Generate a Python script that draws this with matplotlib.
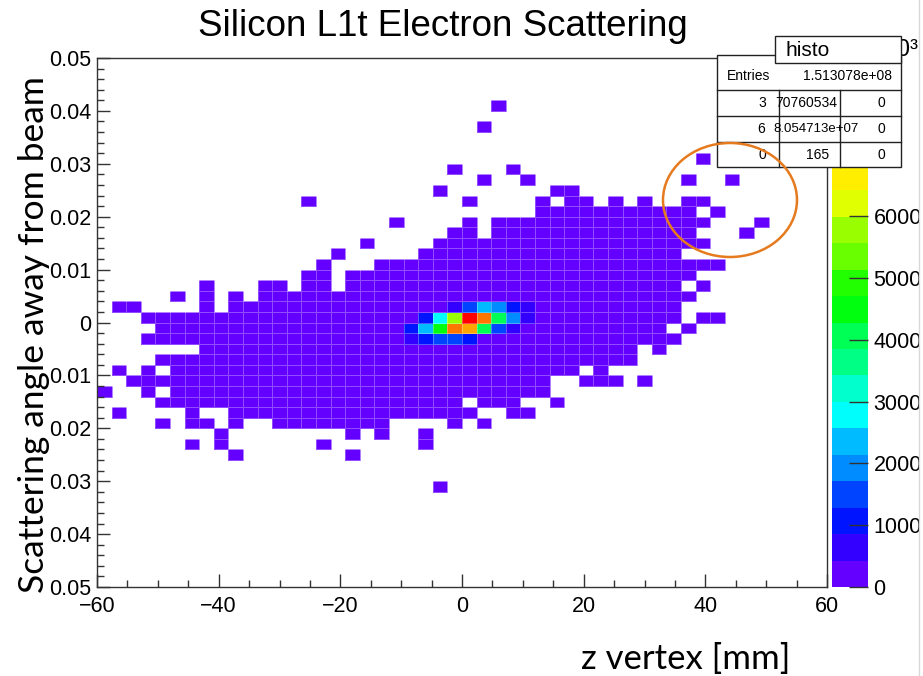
import matplotlib
matplotlib.use('Agg')
import matplotlib.pyplot as plt
import numpy as np
from matplotlib.colors import ListedColormap, BoundaryNorm
from matplotlib.patches import Rectangle, Ellipse
from matplotlib.lines import Line2D
from matplotlib.ticker import MultipleLocator, FuncFormatter

# 2D histogram binning: z vertex [mm] vs scattering angle
nbins_x, x_lo, x_hi = 50, -60.0, 60.0
nbins_y, y_lo, y_hi = 50, -0.05, 0.05

# filled bins, one string per y bin ('#' = low-count bin), top row is iy = 45
top_row = 45
occupancy = [
    '..........' '..........' '.......#..' '..........' '..........',  # 45
    '..........' '..........' '..........' '..........' '..........',  # 44
    '..........' '..........' '......#...' '..........' '..........',  # 43
    '..........' '..........' '..........' '..........' '..........',  # 42
    '..........' '..........' '..........' '..........' '..........',  # 41
    '..........' '..........' '..........' '..........' '.#........',  # 40
    '..........' '..........' '....#...#.' '..........' '..........',  # 39
    '..........' '..........' '......#..#' '..........' '#..#......',  # 38
    '..........' '..........' '...#......' '.##.......' '..........',  # 37
    '..........' '....#.....' '.....#....' '#.##.#.#..' '##........',  # 36
    '..........' '..........' '..........' '##########' '#.#.......',  # 35
    '..........' '..........' '#....#.###' '##########' '##...#....',  # 34
    '..........' '..........' '....##.###' '##########' '#...#.....',  # 33
    '..........' '........#.' '...#######' '##########' '##........',  # 32
    '..........' '......#...' '..########' '##########' '..........',  # 31
    '..........' '.....#...#' '##########' '##########' '###.......',  # 30
    '..........' '....##.###' '##########' '##########' '#.........',  # 29
    '.......#..' '.##.##.###' '##########' '##########' '.#........',  # 28
    '.....#.#.#' '.#########' '##########' '##########' '#.........',  # 27
    '.##....#.#' '##########' '##########' '##########' '..........',  # 26
    '...#######' '##########' '##########' '##########' '.##.......',  # 25
    '....######' '##########' '##########' '#########.' '#.........',  # 24
    '...#######' '##########' '##########' '##########' '..........',  # 23
    '.......###' '##########' '##########' '#######.#.' '..........',  # 22
    '....######' '##########' '##########' '#######...' '..........',  # 21
    '.#.#.#####' '##########' '##########' '###.#.....' '..........',  # 20
    '..########' '##########' '##########' '#..###.#..' '..........',  # 19
    '#..#.#####' '##########' '##########' '#.........' '..........',  # 18
    '....######' '##########' '#####.###.' '.#........' '..........',  # 17
    '.#....#..#' '##########' '######..##' '..........' '..........',  # 16
    '....#.##.#' '..########' '....#.#...' '..........' '..........',  # 15
    '........#.' '.......#.#' '..#.......' '..........' '..........',  # 14
    '......#.#.' '.....#....' '..#.......' '..........' '..........',  # 13
    '.........#' '.......#..' '..........' '..........' '..........',  # 12
    '..........' '..........' '..........' '..........' '..........',  # 11
    '..........' '..........' '..........' '..........' '..........',  # 10
    '..........' '..........' '...#......' '..........' '..........',  # 9
]
low_count = 20000

# bins around the beam spot: (ix, iy, entries)
hot_bins = [
    (24, 26, 640000), (25, 26, 1500000), (26, 26, 2350000), (27, 26, 1930000),
    (28, 26, 1070000), (29, 26, 640000),
    (22, 25, 1070000), (23, 25, 2780000), (24, 25, 5780000), (25, 25, 8560000),
    (26, 25, 7490000), (27, 25, 4070000), (28, 25, 1930000), (29, 25, 640000),
    (21, 24, 1070000), (22, 24, 2350000), (23, 24, 4490000), (24, 24, 7490000),
    (25, 24, 7060000), (26, 24, 4070000), (27, 24, 1500000), (28, 24, 640000),
    (21, 23, 640000), (22, 23, 1070000), (23, 23, 1500000), (24, 23, 1500000),
    (25, 23, 1070000),
]

# stats box contents
stats_name = 'histo'
stats_entries = '1.513078e+08'
stats_table = [['3', '70760534', '0'],
               ['6', '8.054713e+07', '0'],
               ['0', '165', '0']]

# palette axis labels (x10^3) left uncovered by the stats box
palette_ticks = [0, 1000, 2000, 3000, 4000, 5000, 6000]

# ROOT "pretty" palette, 20 contour levels (violet -> red)
palette = ['#6300ff', '#3300ff', '#0014ff', '#0044ff', '#008bff',
           '#00bbff', '#00fffc', '#00ffcc', '#00ff85', '#00ff55',
           '#00ff0e', '#22ff00', '#69ff00', '#99ff00', '#e0ff00',
           '#ffee00', '#ffa700', '#ff7700', '#ff3000', '#ff0000']

for row in occupancy:
    assert len(row) == nbins_x

counts = np.zeros((nbins_y, nbins_x))
for k, row in enumerate(occupancy):
    iy = top_row - k
    for ix, ch in enumerate(row):
        if ch == '#':
            counts[iy, ix] = low_count
for ix, iy, n in hot_bins:
    counts[iy, ix] = n

zmax = counts.max()
levels = np.linspace(0, zmax, len(palette) + 1)
cmap = ListedColormap(palette)
norm = BoundaryNorm(levels, cmap.N, clip=True)

W, H = 923, 676
def fx(px):
    return px / W
def fy(py):
    return 1 - py / H

fig = plt.figure(figsize=(W / 100, H / 100), dpi=100)
fig.patch.set_facecolor('white')
root_font = ['Liberation Sans', 'DejaVu Sans']
slide_font = ['Lato', 'DejaVu Sans']

ax = fig.add_axes([fx(97), fy(587), (827 - 97) / W, (587 - 58) / H])
xedges = np.linspace(x_lo, x_hi, nbins_x + 1)
yedges = np.linspace(y_lo, y_hi, nbins_y + 1)
z = np.ma.masked_equal(counts, 0)
mesh = ax.pcolormesh(xedges, yedges, z, cmap=cmap, norm=norm,
                     edgecolors=(1, 1, 1, 0.3), linewidth=0.4)
ax.set_xlim(x_lo, x_hi)
ax.set_ylim(y_lo, y_hi)

ax.xaxis.set_major_locator(MultipleLocator(20))
ax.xaxis.set_minor_locator(MultipleLocator(5))
ax.yaxis.set_major_locator(MultipleLocator(0.01))
ax.yaxis.set_minor_locator(MultipleLocator(0.002))

def x_fmt(v, pos):
    return f'{v:.0f}'.replace('-', '\u2212')

# the minus signs of the angle labels sit under the slide's axis title
def y_fmt(v, pos):
    if abs(v) < 1e-9:
        return '0'
    return f'{abs(v):.2f}'

ax.xaxis.set_major_formatter(FuncFormatter(x_fmt))
ax.yaxis.set_major_formatter(FuncFormatter(y_fmt))
ax.tick_params(which='both', direction='in', top=False, right=False,
               width=1.0, color='#333333')
ax.tick_params(which='major', length=9.5, labelsize=15.5, pad=4)
ax.tick_params(axis='x', which='major', pad=6.5)
ax.tick_params(which='minor', length=5)
for lab in ax.get_xticklabels() + ax.get_yticklabels():
    lab.set_family(root_font)
for sp in ax.spines.values():
    sp.set_linewidth(1.0)
    sp.set_color('#333333')

# palette axis
cax = fig.add_axes([fx(832), fy(587), 36 / W, (587 - 58) / H])
cb = fig.colorbar(mesh, cax=cax, boundaries=levels,
                  ticks=[t * 1000 for t in palette_ticks])
cb.outline.set_visible(False)
cax.yaxis.set_major_formatter(FuncFormatter(lambda v, p: f'{v / 1000:.0f}'))
cax.tick_params(direction='in', length=14, width=1.0, color='#333333',
                labelsize=15.5, pad=4)
cax.minorticks_off()
for lab in cax.get_yticklabels():
    lab.set_family(root_font)

# exponent of the palette axis, mostly hidden behind the stats box
fig.text(fx(918), fy(50), '\u00d710\u00b3', ha='right', va='center',
         fontsize=17, family=root_font, zorder=1)

fig.text(fx(443), fy(26), 'Silicon L1t Electron Scattering', ha='center',
         va='center', fontsize=26.5, family=root_font)

# stats box
def box(x0, y0, x1, y1, z=5):
    fig.patches.append(Rectangle((fx(x0), fy(y1)), fx(x1) - fx(x0), fy(y0) - fy(y1),
                                 transform=fig.transFigure, facecolor='white',
                                 edgecolor='#222222', linewidth=1.0, zorder=z))

def hline(x0, x1, y):
    fig.lines.append(Line2D([fx(x0), fx(x1)], [fy(y), fy(y)], transform=fig.transFigure,
                            color='#222222', linewidth=1.0, zorder=6))

def vline(x, y0, y1):
    fig.lines.append(Line2D([fx(x), fx(x)], [fy(y0), fy(y1)], transform=fig.transFigure,
                            color='#222222', linewidth=1.0, zorder=6))

box(717, 55, 901, 167)
box(775, 36, 901, 63, z=7)
hline(717, 901, 90)
hline(717, 901, 116)
hline(717, 901, 142)
vline(779, 90, 167)
vline(840, 90, 167)
fig.text(fx(808), fy(50), stats_name, ha='center', va='center', fontsize=15,
         family=root_font, zorder=8)
fig.text(fx(727), fy(76), 'Entries', ha='left', va='center', fontsize=10,
         family=root_font, zorder=8)
fig.text(fx(892), fy(76), stats_entries, ha='right', va='center', fontsize=10,
         family=root_font, zorder=8)
row_y = [103, 129, 155]
col_right = [[766, 837, 885], [765, 859, 885], [766, 829, 885]]
for r, vals in enumerate(stats_table):
    for c, txt in enumerate(vals):
        size = 9.5 if len(txt) > 8 else 10
        fig.text(fx(col_right[r][c]), fy(row_y[r]), txt, ha='right', va='center',
                 fontsize=size, family=root_font, zorder=8)

# highlighted outliers
fig.patches.append(Ellipse((fx(730), fy(200)), 134 / W, 114 / H,
                           transform=fig.transFigure, fill=False,
                           edgecolor='#e67a1e', linewidth=1.8, zorder=9))

# slide overlay labels
fig.text(fx(34), fy(335), 'Scattering angle away from beam', rotation=90,
         ha='center', va='center', fontsize=25.5, family=slide_font, zorder=9)
fig.text(fx(686), fy(659), 'z vertex [mm]', ha='center', va='center',
         fontsize=25, family=slide_font)

# right border of the slide
fig.patches.append(Rectangle((fx(919), 0), 1 - fx(919), 1, transform=fig.transFigure,
                             facecolor='white', edgecolor='none', zorder=10))
fig.lines.append(Line2D([fx(919), fx(919)], [0, 1], transform=fig.transFigure,
                        color='#d8d8d8', linewidth=1.0, zorder=11))

fig.savefig('out.png', dpi=100, facecolor='white')
